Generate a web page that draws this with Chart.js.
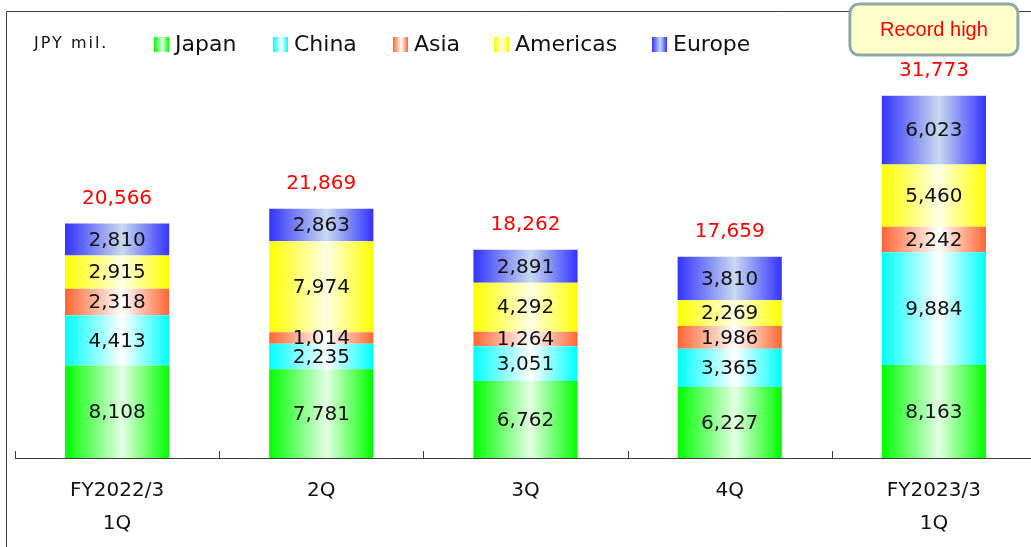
<!DOCTYPE html>
<html lang="en">
<head>
  <meta charset="UTF-8">
  <title>Sales by Region</title>
  <script src="https://cdn.jsdelivr.net/npm/chart.js"></script>
  <style>
    body {
      margin: 0;
      padding: 0;
      background-color: #fff;
      overflow: hidden;
    }
    .wrap {
      position: relative;
      width: 1031px;
      height: 547px;
      overflow: hidden;
    }
  </style>
</head>
<body>
  <div class="wrap">
    <canvas id="salesChart" width="1036" height="547"></canvas>
  </div>

  <script>
    // Quarterly sales by region (JPY mil.)
    const quarters = [['FY2022/3', '1Q'], '2Q', '3Q', '4Q', ['FY2023/3', '1Q']];
    const japan    = [8108, 7781, 6762, 6227, 8163];
    const china    = [4413, 2235, 3051, 3365, 9884];
    const asia     = [2318, 1014, 1264, 1986, 2242];
    const americas = [2915, 7974, 4292, 2269, 5460];
    const europe   = [2810, 2863, 2891, 3810, 6023];
    const totals   = [20566, 21869, 18262, 17659, 31773];

    const FONT = '"DejaVu Sans", Verdana, sans-serif';

    // edge colour / centre colour for the shaded bars
    const regions = [
      { label: 'Japan',    data: japan,    edge: '#00ff00', mid: '#e4ffe4' },
      { label: 'China',    data: china,    edge: '#00ffff', mid: '#ffffff' },
      { label: 'Asia',     data: asia,     edge: '#ff6633', mid: '#ffffff' },
      { label: 'Americas', data: americas, edge: '#ffff00', mid: '#ffffe4' },
      { label: 'Europe',   data: europe,   edge: '#3333ff', mid: '#c8daf0' }
    ];

    function shade(ctx2d, left, right, r) {
      const g = ctx2d.createLinearGradient(left, 0, right, 0);
      g.addColorStop(0, r.edge);
      g.addColorStop(0.55, r.mid);
      g.addColorStop(1, r.edge);
      return g;
    }

    // frame, legend and the "Record high" badge
    const decorations = {
      id: 'decorations',
      beforeDraw(chart) {
        const c = chart.ctx;
        c.save();
        c.strokeStyle = '#3c3c3c';
        c.lineWidth = 1;
        c.beginPath();
        c.moveTo(6.5, chart.height);
        c.lineTo(6.5, 11.5);
        c.lineTo(chart.width, 11.5);
        c.stroke();
        c.restore();
      },
      afterDraw(chart) {
        const c = chart.ctx;
        c.save();
        c.textBaseline = 'middle';
        c.fillStyle = '#111';
        c.font = '16px ' + FONT;
        c.letterSpacing = '2px';
        c.fillText('JPY mil.', 34, 44);
        c.letterSpacing = '0px';

        const boxX = [154, 273, 393, 494, 652];
        c.font = '22px ' + FONT;
        regions.forEach((r, i) => {
          const x = boxX[i];
          c.fillStyle = shade(c, x, x + 15, r);
          c.fillRect(x, 37, 15, 15);
          c.fillStyle = '#111';
          c.fillText(r.label, x + 21, 45);
        });

        // badge above the last bar
        const last = totals.length - 1;
        const cx = chart.scales.x.getPixelForValue(last);
        const bx = cx - 84, by = 4, bw = 168, bh = 51;
        c.beginPath();
        c.roundRect(bx, by, bw, bh, 9);
        c.fillStyle = '#ffffcc';
        c.fill();
        c.lineWidth = 3;
        c.strokeStyle = '#8ea7a7';
        c.stroke();
        c.fillStyle = '#ff0000';
        c.textAlign = 'center';
        c.font = '20px "Liberation Sans", Arial, sans-serif';
        c.fillText('Record high', cx, by + bh / 2 + 1);
        c.restore();
      }
    };

    // segment values, totals and the short upward ticks on the axis
    const barLabels = {
      id: 'barLabels',
      afterDatasetsDraw(chart) {
        const c = chart.ctx;
        const xs = chart.scales.x;
        c.save();
        c.textAlign = 'center';
        c.textBaseline = 'middle';
        c.font = '20px ' + FONT;
        chart.data.datasets.forEach((ds, di) => {
          const meta = chart.getDatasetMeta(di);
          meta.data.forEach((bar, i) => {
            const mid = (bar.y + bar.base) / 2;
            c.fillStyle = '#111';
            c.fillText(ds.data[i].toLocaleString('en-US'), bar.x, mid + 1);
          });
        });
        const top = chart.getDatasetMeta(chart.data.datasets.length - 1);
        top.data.forEach((bar, i) => {
          c.fillStyle = '#ff0000';
          c.fillText(totals[i].toLocaleString('en-US'), bar.x, bar.y - 25);
        });

        const step = xs.getPixelForValue(1) - xs.getPixelForValue(0);
        const axisY = chart.chartArea.bottom;
        c.strokeStyle = '#3c3c3c';
        c.lineWidth = 1;
        c.beginPath();
        for (let i = 0; i < quarters.length; i++) {
          const x = Math.round(xs.getPixelForValue(i) - step / 2) + 0.5;
          c.moveTo(x, axisY);
          c.lineTo(x, axisY - 7);
        }
        c.stroke();
        c.restore();
      }
    };

    const ctx = document.getElementById('salesChart').getContext('2d');
    new Chart(ctx, {
      type: 'bar',
      data: {
        labels: quarters,
        datasets: regions.map(r => ({
          label: r.label,
          data: r.data,
          borderWidth: 0,
          backgroundColor: (context) => {
            const chart = context.chart;
            if (!chart.chartArea || context.dataIndex === undefined) return r.edge;
            const xs = chart.scales.x;
            const step = xs.getPixelForValue(1) - xs.getPixelForValue(0);
            const cx = xs.getPixelForValue(context.dataIndex);
            const half = step * 0.51 / 2;
            return shade(chart.ctx, cx - half, cx + half, r);
          }
        }))
      },
      options: {
        responsive: false,
        animation: false,
        layout: { padding: { left: 15, right: 0, top: 59, bottom: 0 } },
        plugins: {
          legend: { display: false },
          tooltip: { enabled: false }
        },
        datasets: {
          bar: { barPercentage: 0.51, categoryPercentage: 1 }
        },
        scales: {
          x: {
            stacked: true,
            afterFit: (scale) => { scale.height = 89; },
            grid: { display: false, drawTicks: false },
            border: { display: true, color: '#3c3c3c', width: 1 },
            ticks: {
              color: '#111',
              padding: 16,
              maxRotation: 0,
              autoSkip: false,
              font: { family: FONT, size: 20, lineHeight: 1.65 }
            }
          },
          y: {
            stacked: true,
            display: false,
            min: 0,
            max: 35000
          }
        }
      },
      plugins: [decorations, barLabels]
    });
  </script>
</body>
</html>
